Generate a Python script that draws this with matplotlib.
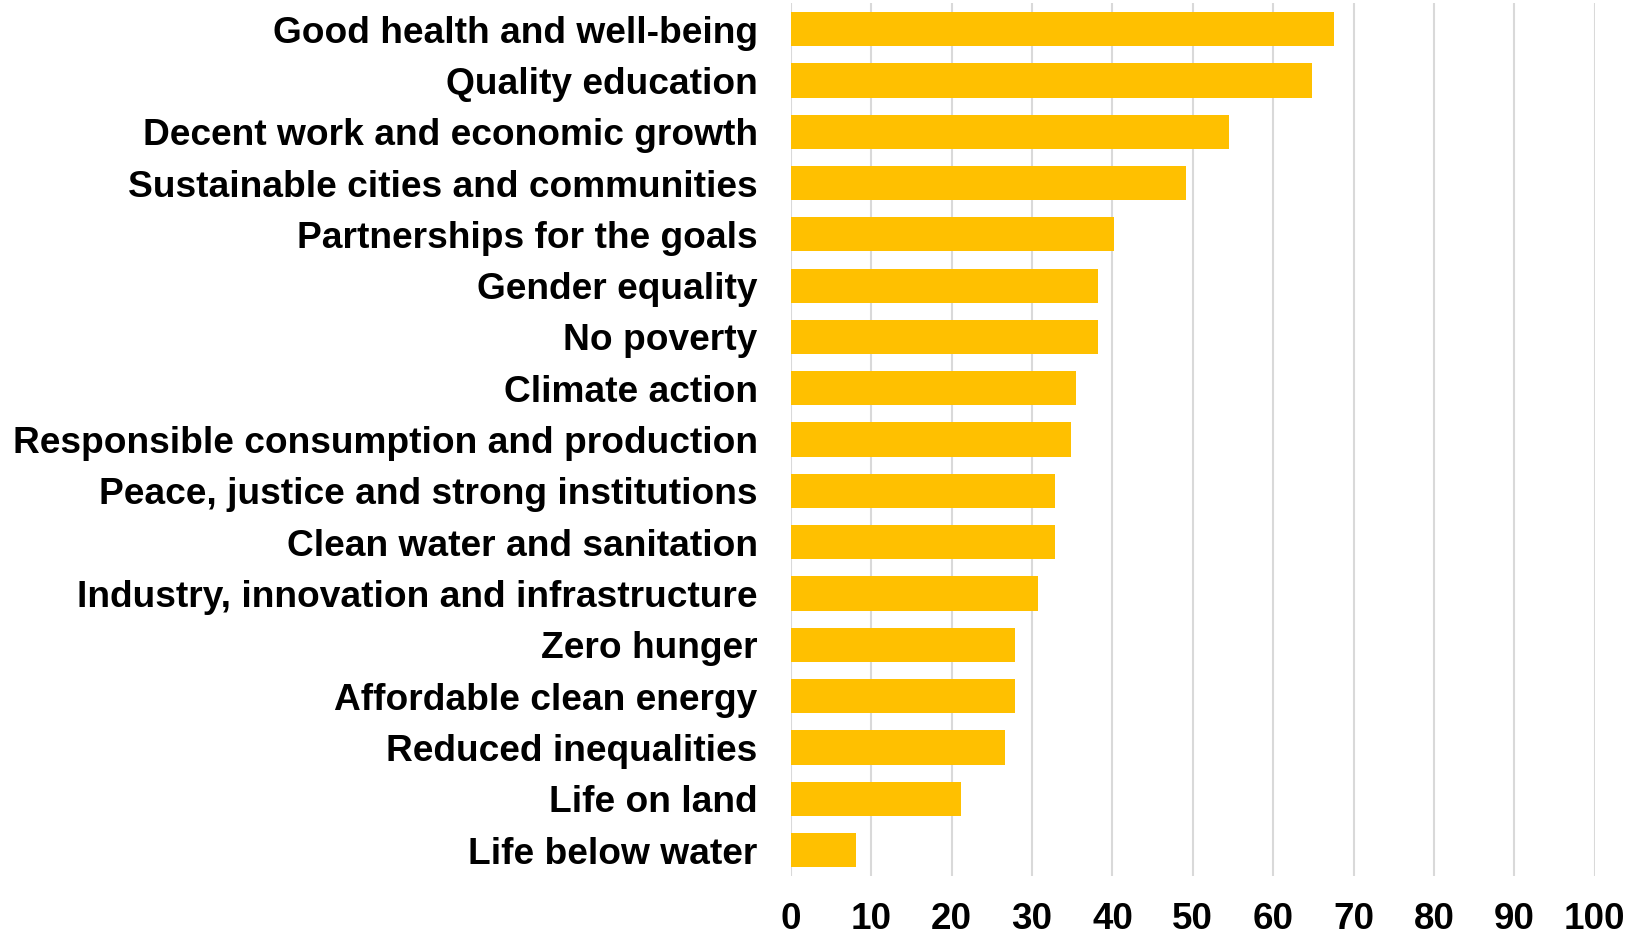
import matplotlib.pyplot as plt

plt.rcParams['font.family'] = ['Liberation Sans', 'DejaVu Sans']

goals = [
    'Good health and well-being', 'Quality education',
    'Decent work and economic growth', 'Sustainable cities and communities',
    'Partnerships for the goals', 'Gender equality', 'No poverty',
    'Climate action', 'Responsible consumption and production',
    'Peace, justice and strong institutions', 'Clean water and sanitation',
    'Industry, innovation and infrastructure', 'Zero hunger',
    'Affordable clean energy', 'Reduced inequalities', 'Life on land',
    'Life below water',
]
shares = [67.5, 64.8, 54.5, 49.1, 40.2, 38.2, 38.2, 35.5, 34.8,
          32.8, 32.8, 30.7, 27.9, 27.9, 26.6, 21.1, 8.1]
x_ticks = list(range(0, 101, 10))

fig = plt.figure(figsize=(16.29, 9.36), dpi=100)
ax = fig.add_axes([0.4855, 0.0644, 0.4935, 0.9319])

ypos = range(len(goals))
ax.barh(ypos, shares, height=0.667, color='#FFC000', zorder=3)

ax.set_xlim(0, 100)
ax.set_ylim(len(goals) - 0.5, -0.5)
ax.set_xticks(x_ticks)
ax.set_yticks(list(ypos))
ax.set_yticklabels(goals)

for s in ax.spines.values():
    s.set_visible(False)
ax.grid(axis='x', color='#d9d9d9', linewidth=1.5, zorder=0)
ax.tick_params(axis='x', length=0, pad=19, labelsize=26.5)
ax.tick_params(axis='y', length=0, pad=24, labelsize=26.7)
for lab in ax.get_xticklabels() + ax.get_yticklabels():
    lab.set_fontweight('bold')

fig.savefig('out.png', dpi=100)
plt.close()
